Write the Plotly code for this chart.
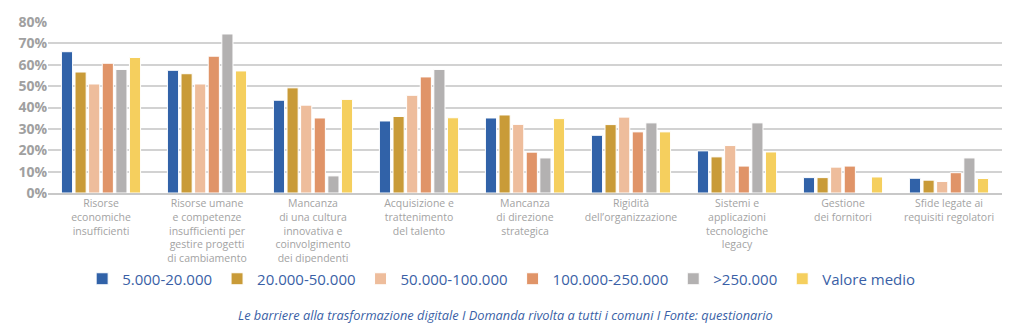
import plotly.graph_objects as go

categories = [
    "Risorse<br>economiche<br>insufficienti",
    "Risorse umane<br>e competenze<br>insufficienti per<br>gestire progetti<br>di cambiamento",
    "Mancanza<br>di una cultura<br>innovativa e<br>coinvolgimento<br>dei dipendenti",
    "Acquisizione e<br>trattenimento<br>del talento",
    "Mancanza<br>di direzione<br>strategica",
    "Rigidità<br>dell’organizzazione",
    "Sistemi e<br>applicazioni<br>tecnologiche<br>legacy",
    "Gestione<br>dei fornitori",
    "Sfide legate ai<br>requisiti regolatori",
]

series_names = ["5.000-20.000", "20.000-50.000", "50.000-100.000",
                "100.000-250.000", ">250.000", "Valore medio"]

s_5_20 = [66.1, 57.4, 43.4, 33.7, 35.1, 27.0, 19.7, 7.2, 6.9]
s_20_50 = [56.6, 55.8, 49.2, 35.8, 36.5, 32.0, 16.9, 7.2, 6.0]
s_50_100 = [51.0, 51.0, 41.1, 45.7, 32.1, 35.5, 22.2, 12.1, 5.4]
s_100_250 = [60.7, 64.0, 35.1, 54.3, 19.1, 28.6, 12.6, 12.6, 9.5]
s_250 = [57.8, 74.4, 8.0, 57.8, 16.4, 32.8, 32.8, None, 16.4]
s_medio = [63.4, 57.1, 43.8, 35.2, 34.8, 28.6, 19.2, 7.5, 6.8]

series_values = [s_5_20, s_20_50, s_50_100, s_100_250, s_250, s_medio]
colors = ["#3162A8", "#C99B38", "#EEBD9C", "#E09468", "#B3B1B1", "#F5CF5E"]

y_ticks = [0, 10, 20, 30, 40, 50, 60, 70, 80]
y_ticktext = [f"{v}%" for v in y_ticks]

caption = ("Le barriere alla trasformazione digitale I Domanda rivolta a tutti i comuni "
           "I Fonte: questionario")

fig = go.Figure()
for name, vals, col in zip(series_names, series_values, colors):
    fig.add_trace(go.Bar(
        x=list(range(len(categories))), y=vals, name=name,
        marker=dict(color=col, line=dict(color="white", width=1)),
    ))

fig.update_layout(
    width=1024, height=330,
    margin=dict(l=48, r=22, t=20, b=137),
    paper_bgcolor="white", plot_bgcolor="white",
    barmode="group", bargap=0.23, bargroupgap=0.18,
    font=dict(family="Open Sans", color="#9a9a9a"),
    showlegend=True,
    legend=dict(
        orientation="h", x=0.475, xanchor="center", y=-0.503, yanchor="middle",
        font=dict(size=15, color="#3A5FA6"), itemwidth=30,
        traceorder="normal",
    ),
    xaxis=dict(
        tickmode="array", tickvals=list(range(len(categories))), ticktext=categories,
        tickfont=dict(size=10.5, color="#a3a3a3"),
        showgrid=False, showline=True, linecolor="#c8c8c8", linewidth=1.5,
        range=[-0.5, 8.5], tickangle=0,
    ),
    yaxis=dict(
        range=[0, 80], tickmode="array", tickvals=y_ticks, ticktext=y_ticktext,
        tickfont=dict(size=14, color="#a0a0a0", weight="bold"),
        showgrid=True, gridcolor="#d2d2d2", gridwidth=1.5, zeroline=False,
        showline=False,
    ),
    annotations=[dict(
        text=caption, xref="paper", yref="paper", x=0.48, y=-0.711,
        xanchor="center", yanchor="middle", showarrow=False,
        font=dict(size=12.8, color="#3A5FA6", style="italic", family="Open Sans"),
    )],
)

fig.write_html("out.html")
